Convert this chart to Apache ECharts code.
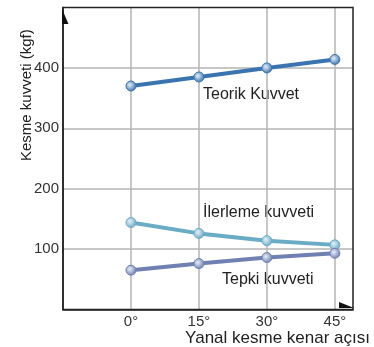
<!DOCTYPE html>
<html><head><meta charset="utf-8">
<script src="https://cdn.jsdelivr.net/npm/echarts@6/dist/echarts.min.js"></script>
<style>html,body{margin:0;padding:0;background:#fff}#c{width:374px;height:347px}</style>
</head><body><div id="c"></div>
<script>
const angles = [0, 15, 30, 45];
const xTickLabels = ['0°', '15°', '30°', '45°'];
const teorik = [370, 385, 400, 414];
const ilerleme = [144, 126, 114, 107];
const tepki = [65, 76, 86, 93];
const yTicks = [100, 200, 300, 400];
const seriesNames = ['Teorik Kuvvet', 'İlerleme kuvveti', 'Tepki kuvveti'];

const font = '"Liberation Sans", Arial, sans-serif';
function pts(v){ return angles.map((a,i)=>[a, v[i]]); }
function marker(c){
  return {color:{type:'radial',x:0.4,y:0.4,r:0.6,colorStops:[{offset:0,color:'#e6f0f8'},{offset:1,color:c}]},borderColor:c,borderWidth:1};
}
function mk(name, data, color){
  return {name, type:'line', data:pts(data), symbol:'circle', symbolSize:10,
    lineStyle:{color, width:4}, itemStyle:marker(color), z:5};
}
const chart = echarts.init(document.getElementById('c'));
chart.setOption({
  animation:false,
  grid:{left:63, right:21, top:7.5, bottom:37.5, show:true, borderColor:'#222', borderWidth:1.5, z:3},
  xAxis:{type:'value', min:-15, max:49, interval:15,
    axisLine:{show:true,onZero:false,lineStyle:{color:'#222',width:1.5}},
    axisTick:{show:false},
    splitLine:{show:true,showMinLine:false,showMaxLine:false,lineStyle:{color:'#b4b4b4',width:1.5}},
    axisLabel:{showMaxLabel:false, color:'#333', fontSize:15, fontFamily:font, margin:5,
      formatter:v=>{const i=angles.indexOf(v); return i>=0?xTickLabels[i]:'';}}
  },
  yAxis:{type:'value', min:0, max:500, interval:100,
    axisLine:{show:true,onZero:false,lineStyle:{color:'#222',width:1.5}},
    axisTick:{show:false},
    splitLine:{show:true,showMinLine:false,showMaxLine:false,lineStyle:{color:'#b4b4b4',width:1.5}},
    axisLabel:{color:'#333', fontSize:15, fontFamily:font, margin:4,
      formatter:v=>yTicks.indexOf(v)>=0?String(v):''}
  },
  series:[mk(seriesNames[0],teorik,'#3a74b0'), mk(seriesNames[1],ilerleme,'#6aabc6'), mk(seriesNames[2],tepki,'#7080b2')],
  graphic:[
    {type:'text', left:203, top:87, style:{text:seriesNames[0], font:'16px '+font, fill:'#222'}},
    {type:'text', left:203, top:205, style:{text:seriesNames[1], font:'16px '+font, fill:'#222'}},
    {type:'text', left:222, top:272, style:{text:seriesNames[2], font:'16px '+font, fill:'#222'}},
    {type:'text', x:19, y:161, rotation:Math.PI/2, style:{text:'Kesme kuvveti (kgf)', font:'15px '+font, fill:'#222', textAlign:'left', textVerticalAlign:'top'}},
    {type:'text', right:4, top:330, style:{text:'Yanal kesme kenar açısı', font:'17px '+font, fill:'#222'}},
    {type:'polygon', shape:{points:[[62,9],[68.5,24],[62,24]]}, style:{fill:'#111'}, z:10},
    {type:'polygon', shape:{points:[[339,302],[354,308],[339,308]]}, style:{fill:'#111'}, z:10}
  ]
});
</script></body></html>
